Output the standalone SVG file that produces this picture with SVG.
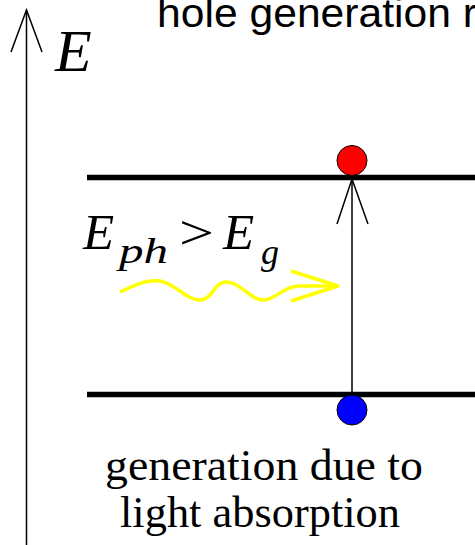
<svg xmlns="http://www.w3.org/2000/svg" width="475" height="545" viewBox="0 0 475 545">
<style>
.serif{font-family:"Liberation Serif","Times New Roman",serif;fill:#000}
.it{font-style:italic}
.sans{font-family:"Liberation Sans",Arial,sans-serif;fill:#000}
.band{stroke:#000;stroke-width:5.5;fill:none}
.thin{stroke:#000;stroke-width:1.5;fill:none}
</style>
<rect width="475" height="545" fill="#fff"/>
<g id="title">
<text class="sans" x="157" y="27" font-size="40" textLength="320" lengthAdjust="spacingAndGlyphs">hole generation r</text>
</g>
<g id="energy-axis">
<line class="thin" x1="26.5" y1="545" x2="26.5" y2="10"/>
<polyline class="thin" points="11,52 26.5,10 42,52"/>
<text class="serif it" x="55" y="71" font-size="60">E</text>
</g>
<g id="conduction-band">
<line class="band" x1="87" y1="177.5" x2="475" y2="177.5"/>
</g>
<g id="valence-band">
<line class="band" x1="87" y1="394.5" x2="475" y2="394.5"/>
</g>
<g id="connectors">
<line class="thin" x1="352" y1="395" x2="352" y2="179"/>
<polyline class="thin" points="337,224 352,179 368,224"/>
</g>
<g id="electron">
<circle cx="352" cy="160.5" r="15" fill="#ff0000" stroke="#000" stroke-width="1"/>
</g>
<g id="hole">
<circle cx="352" cy="410" r="15" fill="#0000ff" stroke="#000" stroke-width="1"/>
</g>
<g id="photon">
<path d="M120,292 C135,285 147,279 160,281 C176,284 186,300 200,300 C212,300 214,283 225,282 C240,281 250,300 263,300 C276,300 282,287 298,286 L338,286" fill="none" stroke="#ffff00" stroke-width="3.5" stroke-linejoin="round"/>
<polyline points="291,271 338,286 291,301" fill="none" stroke="#ffff00" stroke-width="3.5" stroke-linejoin="round"/>
<text class="serif it" x="83" y="249" font-size="51">E</text>
<text class="serif it" x="119" y="263" font-size="36" textLength="49" lengthAdjust="spacingAndGlyphs">ph</text>
<text class="serif" x="179" y="249" font-size="48" textLength="35" lengthAdjust="spacingAndGlyphs">&gt;</text>
<text class="serif it" x="223" y="249" font-size="51">E</text>
<text class="serif it" x="261" y="264" font-size="36">g</text>
</g>
<g id="caption">
<text class="serif" x="105" y="480" font-size="44" textLength="318" lengthAdjust="spacingAndGlyphs">generation due to</text>
<text class="serif" x="120" y="527" font-size="44" textLength="280" lengthAdjust="spacingAndGlyphs">light absorption</text>
</g>
</svg>
